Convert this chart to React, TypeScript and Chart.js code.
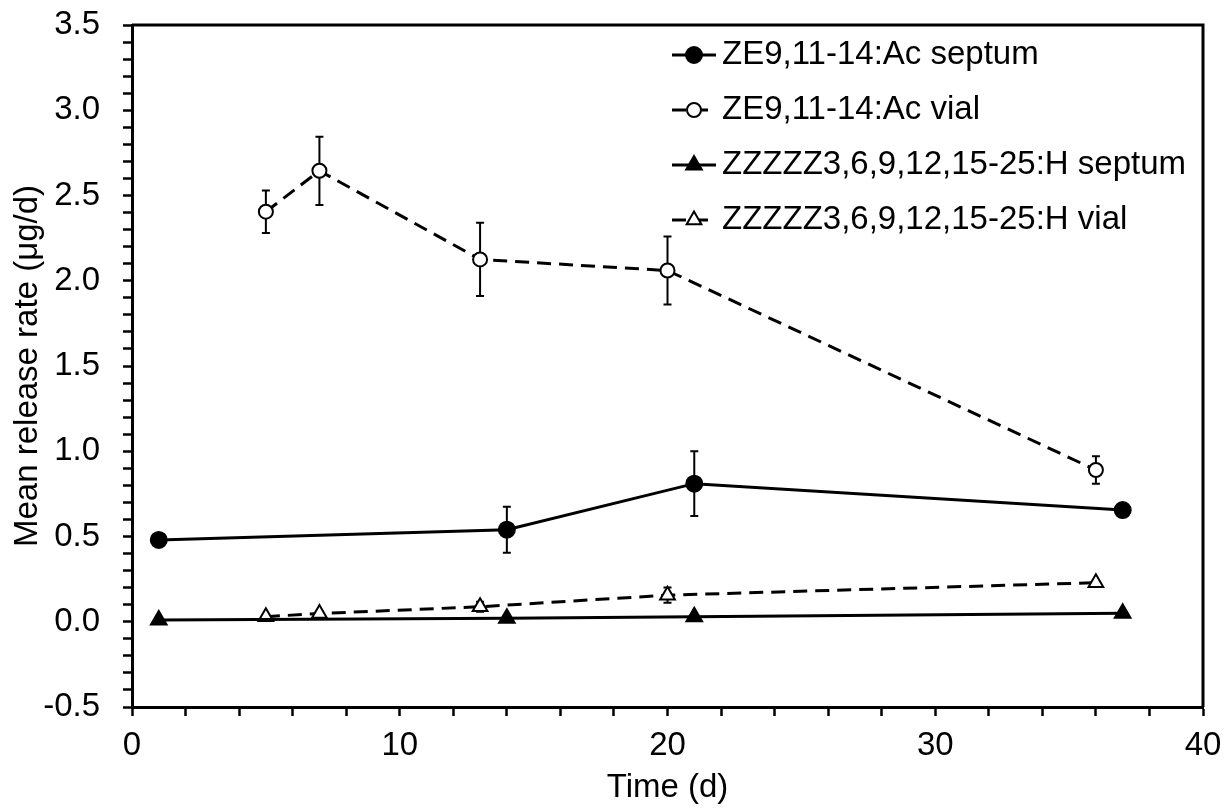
import React, { useEffect, useRef } from "react";
import { Chart, registerables } from "chart.js";

Chart.register(...registerables);

// ---- Data ----
const acSeptumLabel = "ZE9,11-14:Ac septum";
const acSeptumDays = [1, 14, 21, 37];
const acSeptumRate = [0.48, 0.54, 0.81, 0.655];
const acSeptumErr = [0, 0.135, 0.19, 0];

const acVialLabel = "ZE9,11-14:Ac vial";
const acVialDays = [5, 7, 13, 20, 36];
const acVialRate = [2.405, 2.645, 2.125, 2.06, 0.89];
const acVialErr = [0.125, 0.2, 0.215, 0.2, 0.08];

const hSeptumLabel = "ZZZZZ3,6,9,12,15-25:H septum";
const hSeptumDays = [1, 14, 21, 37];
const hSeptumRate = [0.01, 0.02, 0.03, 0.05];
const hSeptumErr = [0, 0, 0, 0];

const hVialLabel = "ZZZZZ3,6,9,12,15-25:H vial";
const hVialDays = [5, 7, 13, 20, 36];
const hVialRate = [0.03, 0.048, 0.088, 0.156, 0.229];
const hVialErr = [0.01, 0.012, 0.03, 0.045, 0.012];

const xTitle = "Time (d)";
const yTitle = "Mean release rate (μg/d)";
const xMin = 0, xMax = 40, xMinorStep = 2, xMajorStep = 10;
const yMin = -0.5, yMax = 3.5, yMinorStep = 0.1, yMajorStep = 0.5;

const FONT = "'Liberation Sans', Arial, sans-serif";
const FONT_SIZE = 33;

const toPoints = (xs: number[], ys: number[]) => xs.map((x, i) => ({ x, y: ys[i] }));

function drawMarker(ctx: CanvasRenderingContext2D, style: string, x: number, y: number, r: number, fill: string, stroke: string, bw: number) {
  ctx.save();
  ctx.beginPath();
  if (style === "triangle") {
    let rad = 0;
    ctx.moveTo(x + Math.sin(rad) * r, y - Math.cos(rad) * r);
    rad += (2 * Math.PI) / 3;
    ctx.lineTo(x + Math.sin(rad) * r, y - Math.cos(rad) * r);
    rad += (2 * Math.PI) / 3;
    ctx.lineTo(x + Math.sin(rad) * r, y - Math.cos(rad) * r);
    ctx.closePath();
  } else {
    ctx.arc(x, y, r, 0, Math.PI * 2);
  }
  ctx.setLineDash([]);
  ctx.fillStyle = fill;
  ctx.fill();
  ctx.lineWidth = bw;
  ctx.strokeStyle = stroke;
  ctx.stroke();
  ctx.restore();
}

const errorBarPlugin = {
  id: "errorBars",
  beforeDatasetsDraw(chart: any) {
    const { ctx } = chart;
    const xs = chart.scales.x;
    const ys = chart.scales.y;
    ctx.save();
    ctx.strokeStyle = "#000";
    ctx.lineWidth = 2;
    ctx.setLineDash([]);
    chart.data.datasets.forEach((ds: any) => {
      const errs: number[] = ds.errors || [];
      ds.data.forEach((p: any, i: number) => {
        const e = errs[i];
        if (!e) return;
        const px = xs.getPixelForValue(p.x);
        const top = ys.getPixelForValue(p.y + e);
        const bot = ys.getPixelForValue(p.y - e);
        const cap = 4;
        ctx.beginPath();
        ctx.moveTo(px, top);
        ctx.lineTo(px, bot);
        ctx.moveTo(px - cap, top);
        ctx.lineTo(px + cap, top);
        ctx.moveTo(px - cap, bot);
        ctx.lineTo(px + cap, bot);
        ctx.stroke();
      });
    });
    ctx.restore();
  },
};

const frameAndLegendPlugin = {
  id: "frameAndLegend",
  afterDraw(chart: any) {
    const { ctx, chartArea } = chart;
    ctx.save();
    // top and right frame lines
    ctx.strokeStyle = "#000";
    ctx.lineWidth = 3;
    ctx.setLineDash([]);
    ctx.beginPath();
    ctx.moveTo(chartArea.left, chartArea.top);
    ctx.lineTo(chartArea.right, chartArea.top);
    ctx.lineTo(chartArea.right, chartArea.bottom);
    ctx.stroke();

    // legend
    const lineLen = 44;
    const textX = chartArea.left + 590;
    const x0 = textX - lineLen - 6;
    const y0 = chartArea.top + 30;
    const rowH = 55;
    ctx.font = `${FONT_SIZE}px ${FONT}`;
    ctx.textBaseline = "middle";
    ctx.textAlign = "left";
    chart.data.datasets.forEach((ds: any, i: number) => {
      const y = y0 + i * rowH;
      ctx.save();
      ctx.strokeStyle = ds.borderColor;
      ctx.lineWidth = ds.borderWidth;
      ctx.setLineDash(ds.borderDash || []);
      ctx.beginPath();
      ctx.moveTo(x0, y);
      ctx.lineTo(x0 + lineLen, y);
      ctx.stroke();
      ctx.restore();
      drawMarker(ctx, ds.pointStyle, x0 + lineLen / 2, y, ds.pointRadius, ds.pointBackgroundColor, ds.pointBorderColor, ds.pointBorderWidth);
      ctx.fillStyle = "#000";
      ctx.fillText(ds.label, textX, y);
    });
    ctx.restore();
  },
};

export default function App() {
  const canvasRef = useRef<HTMLCanvasElement | null>(null);

  useEffect(() => {
    const html = document.documentElement;
    const body = document.body;
    const prevHtmlOverflow = html.style.overflow;
    const prevBodyMargin = body.style.margin;
    const prevBodyOverflow = body.style.overflow;
    html.style.overflow = "hidden";
    body.style.overflow = "hidden";
    body.style.margin = "0";

    if (!canvasRef.current) return;
    const base = {
      borderColor: "#000",
      borderWidth: 3,
      pointBorderColor: "#000",
      pointBorderWidth: 2,
      showLine: true,
      tension: 0,
    };
    const chart = new Chart(canvasRef.current, {
      type: "line",
      data: {
        datasets: [
          {
            ...base,
            label: acSeptumLabel,
            data: toPoints(acSeptumDays, acSeptumRate),
            errors: acSeptumErr,
            pointStyle: "circle",
            pointRadius: 8,
            pointBackgroundColor: "#000",
            borderDash: [],
          } as any,
          {
            ...base,
            label: acVialLabel,
            data: toPoints(acVialDays, acVialRate),
            errors: acVialErr,
            pointStyle: "circle",
            pointRadius: 7,
            pointBackgroundColor: "#fff",
            borderDash: [14, 8],
          } as any,
          {
            ...base,
            label: hSeptumLabel,
            data: toPoints(hSeptumDays, hSeptumRate),
            errors: hSeptumErr,
            pointStyle: "triangle",
            pointRadius: 9,
            pointBackgroundColor: "#000",
            borderDash: [],
          } as any,
          {
            ...base,
            label: hVialLabel,
            data: toPoints(hVialDays, hVialRate),
            errors: hVialErr,
            pointStyle: "triangle",
            pointRadius: 8.5,
            pointBackgroundColor: "#fff",
            borderDash: [14, 8],
          } as any,
        ],
      },
      options: {
        animation: false,
        responsive: false,
        devicePixelRatio: 1,
        layout: { padding: { top: 25, right: 22, left: 0, bottom: 0 } },
        plugins: {
          legend: { display: false },
          tooltip: { enabled: false },
        },
        scales: {
          x: {
            type: "linear",
            min: xMin,
            max: xMax,
            afterFit: (s: any) => {
              s.height = 101;
              s.paddingLeft = 0;
              s.paddingRight = 0;
            },
            border: { display: true, color: "#000", width: 3 },
            grid: {
              display: true,
              drawOnChartArea: false,
              drawTicks: true,
              tickLength: 9,
              tickWidth: 2.5,
              tickColor: "#000",
            },
            ticks: {
              stepSize: xMinorStep,
              autoSkip: false,
              maxRotation: 0,
              maxTicksLimit: 1000,
              padding: 10,
              color: "#000",
              font: { family: FONT, size: FONT_SIZE },
              callback: (v: any) => (Number(v) % xMajorStep === 0 ? String(v) : ""),
            },
            title: {
              display: true,
              text: xTitle,
              color: "#000",
              font: { family: FONT, size: FONT_SIZE },
              padding: { top: 0, bottom: 0 },
            },
          },
          y: {
            type: "linear",
            min: yMin,
            max: yMax,
            afterFit: (s: any) => {
              s.width = 132;
              s.paddingTop = 0;
              s.paddingBottom = 0;
            },
            border: { display: true, color: "#000", width: 3 },
            grid: {
              display: true,
              drawOnChartArea: false,
              drawTicks: true,
              tickLength: 9,
              tickWidth: 2.5,
              tickColor: "#000",
            },
            ticks: {
              stepSize: yMinorStep,
              autoSkip: false,
              maxTicksLimit: 1000,
              padding: 23,
              color: "#000",
              font: { family: FONT, size: FONT_SIZE },
              callback: (v: any) => {
                const n = Number(v) / yMajorStep;
                return Math.abs(n - Math.round(n)) < 1e-6 ? (Math.round(n) * yMajorStep).toFixed(1) : "";
              },
            },
            title: {
              display: true,
              text: yTitle,
              color: "#000",
              font: { family: FONT, size: FONT_SIZE },
              padding: { top: 8, bottom: 0 },
            },
          },
        },
      } as any,
      plugins: [errorBarPlugin, frameAndLegendPlugin],
    });
    return () => {
      chart.destroy();
      html.style.overflow = prevHtmlOverflow;
      body.style.overflow = prevBodyOverflow;
      body.style.margin = prevBodyMargin;
    };
  }, []);

  return <canvas ref={canvasRef} width={1225} height={808} style={{ display: "block" }} />;
}
